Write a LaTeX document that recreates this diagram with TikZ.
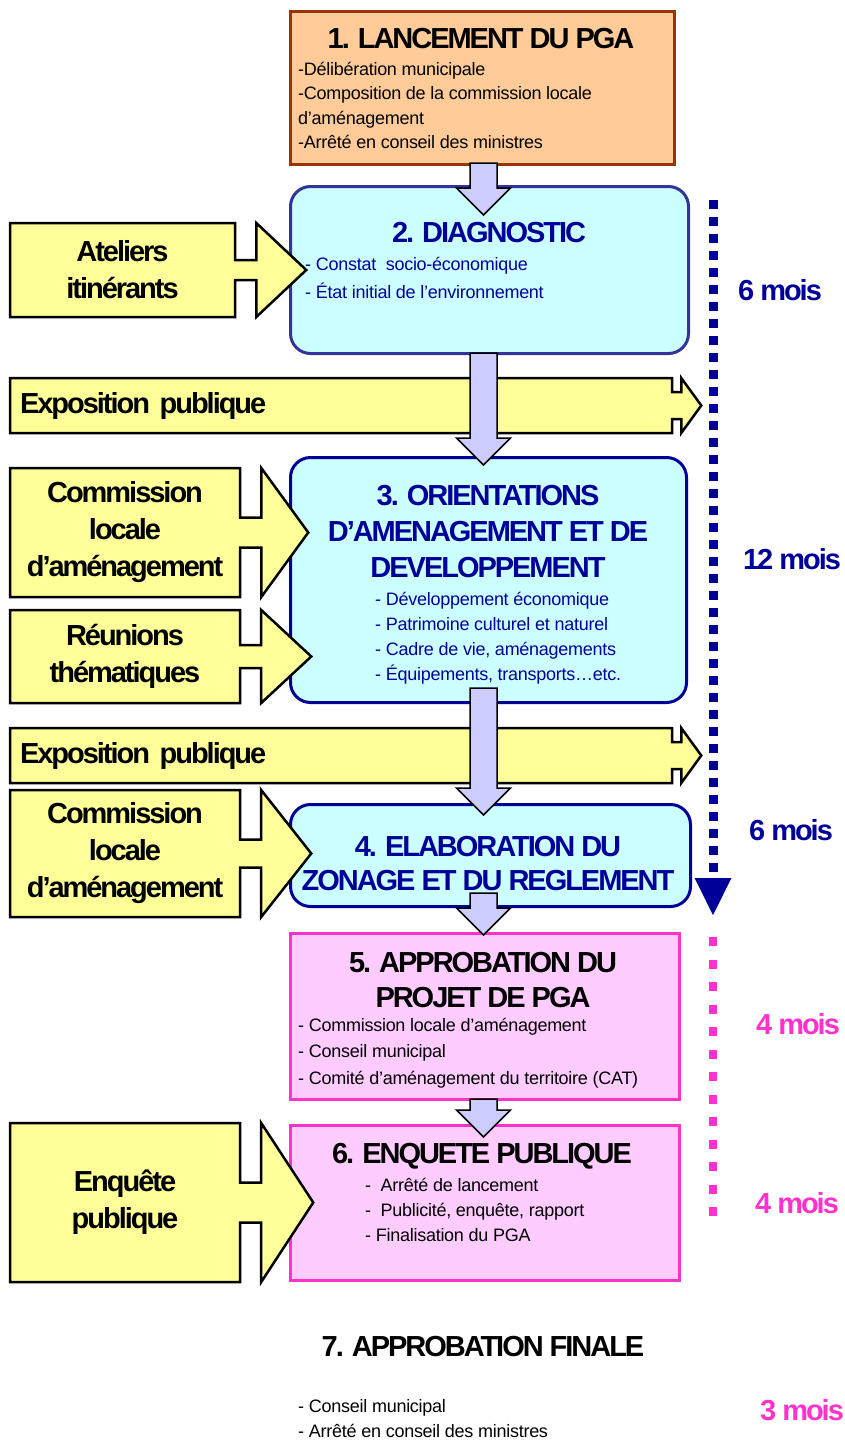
\documentclass[tikz,border=0pt]{standalone}
\usepackage{fontspec}
\setmainfont{Liberation Sans}[LetterSpace=-1.5]
\newfontfamily\tightfont{Liberation Sans}[LetterSpace=-7]
\usetikzlibrary{shapes.arrows,arrows.meta,calc}

\definecolor{orangefill}{HTML}{FFCC99}
\definecolor{brownline}{HTML}{993300}
\definecolor{cyanfill}{HTML}{CCFFFF}
\definecolor{diagline}{HTML}{333399}
\definecolor{navytext}{HTML}{000099}
\definecolor{pinkfill}{HTML}{FFCCFF}
\definecolor{pinkline}{HTML}{FF33CC}
\definecolor{yellowfill}{HTML}{FFFF99}
\definecolor{lavender}{HTML}{CCCCFF}

\newcommand\titlefont{\tightfont\bfseries\fontsize{29pt}{36pt}\selectfont}
\newcommand\sidefont{\tightfont\bfseries\fontsize{29pt}{37pt}\selectfont}
\newcommand\moisfont{\tightfont\bfseries\fontsize{29pt}{30pt}\selectfont}
\newcommand\itemfont{\fontsize{18pt}{25pt}\selectfont}

\begin{document}
\begin{tikzpicture}[x=1pt,y=-1pt]
\tikzstyle{orangebox}=[draw=brownline,fill=orangefill,line width=3pt,inner sep=0pt]
\tikzstyle{cyanbox}=[draw=navytext,fill=cyanfill,line width=3pt,rounded corners=20pt,inner sep=0pt]
\tikzstyle{pinkbox}=[draw=pinkline,fill=pinkfill,line width=3pt,inner sep=0pt]
\tikzstyle{sidebox}=[arrow box,draw=black,fill=yellowfill,line width=2.5pt,inner sep=0pt,align=center,font=\sidefont]
\tikzstyle{flowarrow}=[draw=black,fill=lavender,line width=1.5pt]
\tikzstyle{title}=[anchor=base,align=center,font=\titlefont,inner sep=0pt]
\tikzstyle{items}=[anchor=base west,align=left,font=\itemfont,inner sep=0pt]
\tikzstyle{mois}=[anchor=base,font=\moisfont,inner sep=0pt]
\useasboundingbox (0,0) rectangle (845,1440);

% stages
\node[orangebox,minimum width=384pt,minimum height=153pt] (lanc) at (482.5,88) {};
\node[cyanbox,draw=diagline,minimum width=398pt,minimum height=167pt] (diag) at (489.5,270) {};
\node[cyanbox,minimum width=396pt,minimum height=245pt] (orient) at (488.5,580) {};
\node[cyanbox,minimum width=400pt,minimum height=102pt] (zonage) at (490.5,855.5) {};
\node[pinkbox,minimum width=389pt,minimum height=166pt] (approb) at (485,1016.5) {};
\node[pinkbox,minimum width=389pt,minimum height=155pt] (enq) at (485,1203) {};

% side inputs
\node[sidebox,minimum width=225pt,minimum height=94pt,arrow box arrows={east:70pt},
  arrow box shaft width=20pt,arrow box head extend=37pt,arrow box tip angle=86.5]
  (ateliers) at (122.5,270) {Ateliers\\itinérants};
\node[sidebox,text width=642pt,align=left,inner xsep=10pt,minimum width=662pt,minimum height=55pt,
  arrow box arrows={east:28pt},arrow box shaft width=27pt,arrow box head extend=14pt,arrow box tip angle=108]
  (expoa) at (341,405.5) {Exposition publique};
\node[sidebox,minimum width=230pt,minimum height=129pt,arrow box arrows={east:67pt},
  arrow box shaft width=30pt,arrow box head extend=49.5pt,arrow box tip angle=107.9]
  (commissiona) at (125,532.5) {Commission\\locale\\d’aménagement};
\node[sidebox,minimum width=230pt,minimum height=93pt,arrow box arrows={east:70pt},
  arrow box shaft width=23pt,arrow box head extend=35pt,arrow box tip angle=85.8]
  (reunions) at (125,656.5) {Réunions\\thématiques};
\node[sidebox,text width=642pt,align=left,inner xsep=10pt,minimum width=662pt,minimum height=55pt,
  arrow box arrows={east:28pt},arrow box shaft width=27pt,arrow box head extend=14pt,arrow box tip angle=108]
  (expob) at (341,755.5) {Exposition publique};
\node[sidebox,minimum width=230pt,minimum height=127pt,arrow box arrows={east:70pt},
  arrow box shaft width=28pt,arrow box head extend=49.5pt,arrow box tip angle=103.5]
  (commissionb) at (125,853.5) {Commission\\locale\\d’aménagement};
\node[sidebox,minimum width=230pt,minimum height=159pt,arrow box arrows={east:72pt},
  arrow box shaft width=40pt,arrow box head extend=59.5pt,arrow box tip angle=113.6]
  (enquete) at (125,1202.5) {Enquête\\publique};

% flow between stages
\foreach \a/\b/\s/\t in {lanc/diag/3/30, diag/orient/2/9, orient/zonage/16/12,
                          zonage/approb/15/3, approb/enq/2/13}
  \draw[flowarrow] let \p1=(\a.south), \p2=(\b.north) in
    (470pt,\y1+\s) -- (497pt,\y1+\s) -- (497pt,\y2-\t+27) -- (510.5pt,\y2-\t+27)
    -- (483.5pt,\y2-\t) -- (456.5pt,\y2-\t+27) -- (470pt,\y2-\t+27) -- cycle;

% stage texts (base = last line)
\node[title] (lanctitle) at (481,48) {1. LANCEMENT DU PGA};
\node[items,font=\fontsize{18pt}{24.5pt}\selectfont] (lancitems) at (298,148.5)
  {-Délibération municipale\\-Composition de la commission locale\\d’aménagement\\-Arrêté en conseil des ministres};
\node[title,text=navytext] (diagtitle) at (489,242) {2. DIAGNOSTIC};
\node[items,text=navytext,font=\fontsize{18pt}{28pt}\selectfont] (diagitems) at (305,298)
  {- Constat \ socio-économique\\- État initial de l’environnement};
\node[title,text=navytext] (orienttitle) at (488,577) {3. ORIENTATIONS\\D’AMENAGEMENT ET DE\\DEVELOPPEMENT};
\node[items,text=navytext] (orientitems) at (375,680)
  {- Développement économique\\- Patrimoine culturel et naturel\\- Cadre de vie, aménagements\\- Équipements, transports…etc.};
\node[title,text=navytext,font=\titlefont\fontsize{29pt}{34pt}\selectfont] (zonagetitle) at (488,890) {4. ELABORATION DU\\ZONAGE ET DU REGLEMENT};
\node[title,font=\titlefont\fontsize{29pt}{35pt}\selectfont] (approbtitle) at (483,1007) {5. APPROBATION DU\\PROJET DE PGA};
\node[items,font=\fontsize{18pt}{26.5pt}\selectfont] (approbitems) at (298,1084)
  {- Commission locale d’aménagement\\- Conseil municipal\\- Comité d’aménagement du territoire (CAT)};
\node[title] (enqtitle) at (482,1163) {6. ENQUETE PUBLIQUE};
\node[items] (enqitems) at (365,1241)
  {- \ Arrêté de lancement\\- \ Publicité, enquête, rapport\\- Finalisation du PGA};
\node[title] (finaltitle) at (483,1356) {7. APPROBATION FINALE};
\node[items] (finalitems) at (298,1437) {- Conseil municipal\\- Arrêté en conseil des ministres};

% time line
\coordinate (bluetop) at (713,200);
\coordinate (bluetip) at (713,916);
\coordinate (pinktop) at (713,937);
\coordinate (pinkend) at (713,1216);
\draw[navytext,line width=9pt,dash pattern=on 9pt off 8pt,-{Triangle[width=34pt,length=38pt]}] (bluetop) -- (bluetip);
\draw[pinkline,line width=8pt,dash pattern=on 9pt off 13.5pt] (pinktop) -- (pinkend);
\foreach \place/\name/\txt/\col in {(780,300)/moisa/6 mois/navytext,
                                    (792,569)/moisb/12 mois/navytext,
                                    (791,840)/moisc/6 mois/navytext,
                                    (798,1034)/moisd/4 mois/pinkline,
                                    (797,1213)/moise/4 mois/pinkline,
                                    (802,1420)/moisf/3 mois/pinkline}
  \node[mois,text=\col] (\name) at \place {\txt};
\end{tikzpicture}
\end{document}
